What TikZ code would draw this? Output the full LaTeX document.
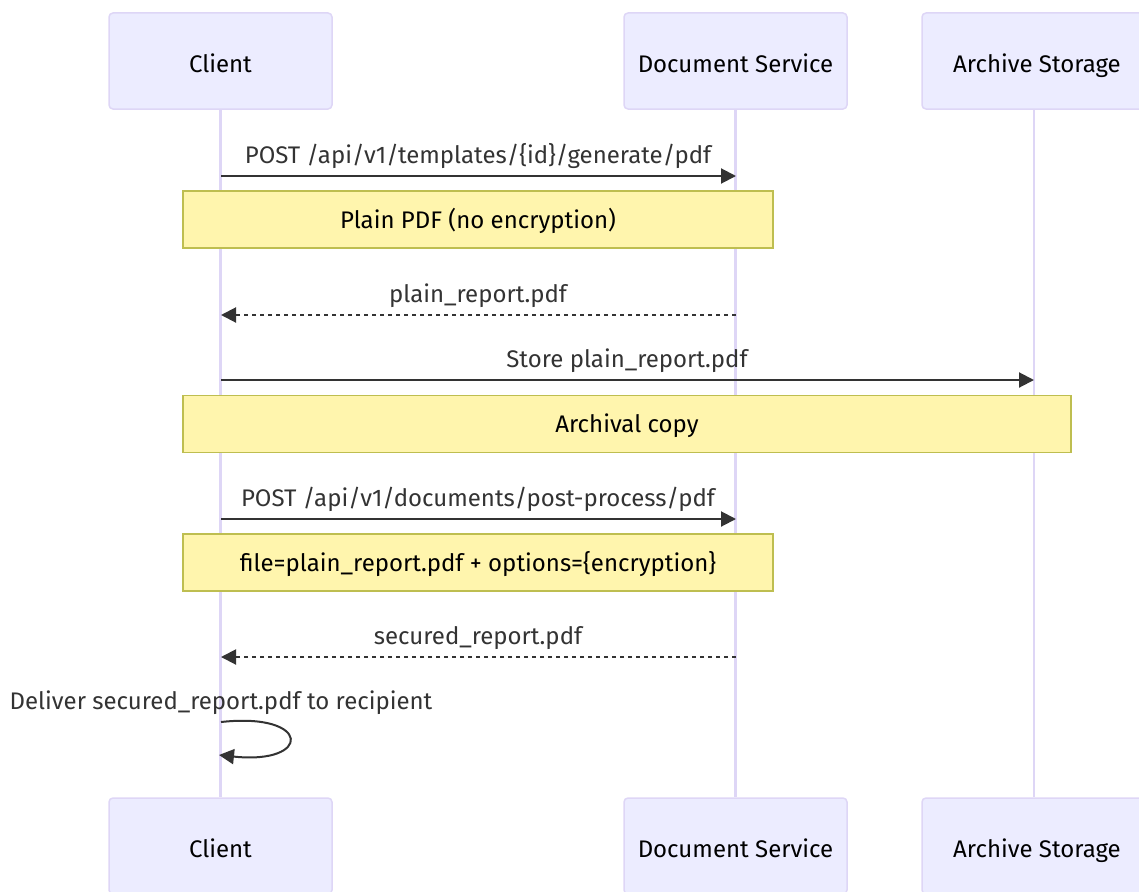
\documentclass[tikz,border=0pt]{standalone}
\usepackage{fontspec}
\setmainfont{Fira Sans}
\usepackage{tikz}
\usetikzlibrary{arrows.meta}
\definecolor{actorfill}{RGB}{236, 236, 255}
\definecolor{actorline}{RGB}{222, 214, 246}
\definecolor{notefill}{RGB}{255, 245, 173}
\definecolor{noteline}{RGB}{190, 190, 80}
\definecolor{msgcol}{RGB}{51, 51, 51}
\newcommand{\seqfont}{\fontsize{24}{28}\selectfont}

\begin{document}
\begin{tikzpicture}[x=1pt, y=-1pt,
  actor/.style={draw=actorline, fill=actorfill, rounded corners=4pt, line width=1.5pt,
    minimum width=223pt, minimum height=96pt, font=\seqfont, text=black,
    text height=22pt, text depth=0pt},
  lifeline/.style={draw=actorline, line width=2.5pt},
  note/.style={draw=noteline, fill=notefill, line width=1.5pt, minimum height=57pt,
    font=\seqfont, text=black, text height=19pt, text depth=2pt},
  msg/.style={draw=msgcol, line width=2pt, -{Triangle[length=15pt, width=15pt]}},
  reply/.style={msg, dash pattern=on 4pt off 4pt},
  msglabel/.style={font=\seqfont, text=msgcol, anchor=base}]
\useasboundingbox (0,0) rectangle (1139,891);

% Participants
\node[actor] (clientTop) at (220.5,61) {Client};
\node[actor] (docTop) at (735.5,61) {Document Service};
\node[actor, minimum width=230pt] (archTop) at (1037,61) {Archive Storage};
\node[actor] (clientBot) at (220.5,846) {Client};
\node[actor] (docBot) at (735.5,846) {Document Service};
\node[actor, minimum width=230pt] (archBot) at (1037,846) {Archive Storage};

% Lifelines
\draw[lifeline] (clientTop) -- (clientBot);
\draw[lifeline] (docTop) -- (docBot);
\draw[lifeline] (archTop.south -| 1034,0) -- (archBot.north -| 1034,0);

% Notes
\node[note, minimum width=590pt] (plainNote) at (478,219.5) {Plain PDF (no encryption)};
\node[note, minimum width=888pt] (archNote) at (627,424) {Archival copy};
\node[note, minimum width=590pt] (fileNote) at (478,562.5) {file=plain\_report.pdf + options=\{encryption\}};

% Message points
\coordinate (c1) at (221,176);
\coordinate (d1) at (736,176);
\coordinate (d2) at (736,315);
\coordinate (c2) at (221,315);
\coordinate (c3) at (221,380);
\coordinate (a3) at (1034,380);
\coordinate (c4) at (221,519);
\coordinate (d4) at (736,519);
\coordinate (d5) at (736,657);
\coordinate (c5) at (221,657);
\coordinate (c6) at (221,722);
\coordinate (c7) at (219,755);

% Messages
\draw[msg] (c1) -- (d1);
\draw[reply] (d2) -- (c2);
\draw[msg] (c3) -- (a3);
\draw[msg] (c4) -- (d4);
\draw[reply] (d5) -- (c5);
\draw[msg] (c6) .. controls (312,712) and (312,765) .. (c7);

% Labels
\node[msglabel] (genLabel) at (478,163) {POST /api/v1/templates/\{id\}/generate/pdf};
\node[msglabel] (plainLabel) at (478,302) {plain\_report.pdf};
\node[msglabel] (storeLabel) at (627,367) {Store plain\_report.pdf};
\node[msglabel] (postLabel) at (478,506) {POST /api/v1/documents/post-process/pdf};
\node[msglabel] (securedLabel) at (478,644) {secured\_report.pdf};
\node[msglabel] (deliverLabel) at (221,709) {Deliver secured\_report.pdf to recipient};

\end{tikzpicture}
\end{document}
